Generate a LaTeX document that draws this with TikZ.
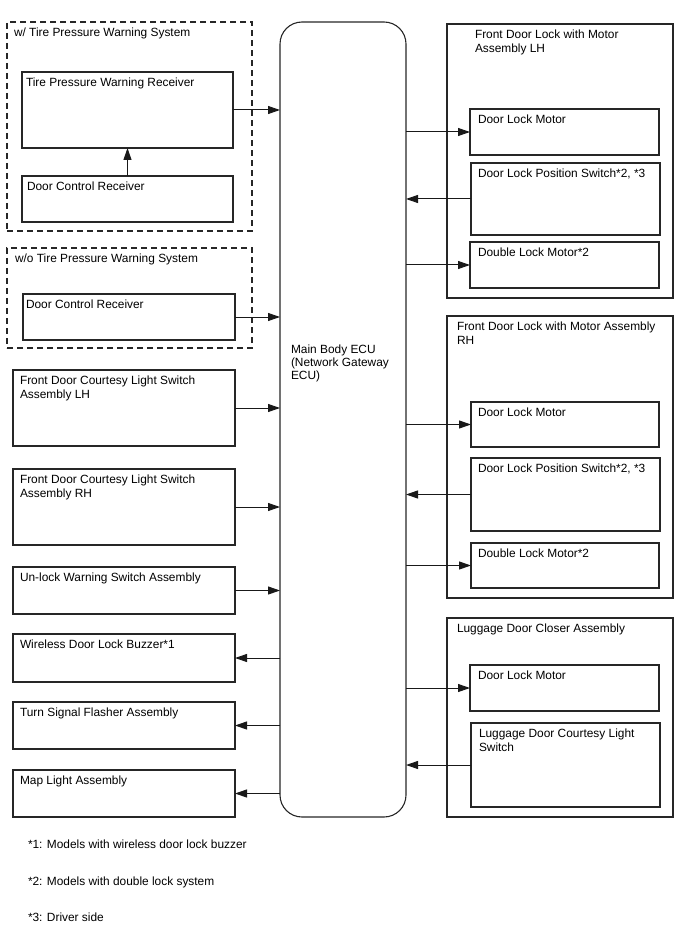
\documentclass[tikz,border=0pt]{standalone}
\usepackage{fontspec}
\setmainfont{Liberation Sans}
\usetikzlibrary{arrows.meta,calc}
\newcommand\mybox[6]{\node[#6, anchor=north west, minimum width={(#4-#2)*1pt}, minimum height={(#5-#3)*1pt}] (#1) at (#2,#3) {};}
\newcommand\mytxt[4]{\node[txt] (#4) at ($(#1.north west)+(#2,6.3)$) {#3};}
\begin{document}
\begin{tikzpicture}[x=1pt,y=-1pt,
  box/.style={draw=black!85, line width=1.1pt, inner sep=0pt, outer sep=0pt},
  dbox/.style={box, dash pattern=on 6pt off 4pt, line width=1.3pt},
  ecubox/.style={box, rounded corners=22pt},
  txt/.style={anchor=north west, inner sep=0pt, outer sep=0pt, align=left, font=\fontsize{11.9}{14}\selectfont},
  arr/.style={draw=black!90, -{Triangle[length=12pt,width=8pt]}, line width=1pt}]
\useasboundingbox (0,0) rectangle (688,949);

% main ECU
\mybox{ecu}{280}{22}{406}{817}{ecubox}
\node[txt, font=\fontsize{11.9}{13}\selectfont] (ecut) at ($(ecu.north west)+(11,323.3)$) {Main Body ECU\\(Network Gateway\\ECU)};

% left dashed groups
\mybox{dash1}{7}{22}{252}{231}{dbox}
\mytxt{dash1}{7}{w/ Tire Pressure Warning System}{dash1t}
\mybox{tpwr}{22}{72}{233}{148}{box}
\mytxt{tpwr}{4}{Tire Pressure Warning Receiver}{tpwrt}
\mybox{dcra}{22}{176}{233}{222}{box}
\mytxt{dcra}{5}{Door Control Receiver}{dcrat}

\mybox{dash2}{7}{248}{252}{348}{dbox}
\mytxt{dash2}{8}{w/o Tire Pressure Warning System}{dash2t}
\mybox{dcrb}{23}{294}{235}{340}{box}
\mytxt{dcrb}{3}{Door Control Receiver}{dcrbt}

% left boxes
\mybox{fdl}{13}{370}{235}{446}{box}
\mytxt{fdl}{7}{Front Door Courtesy Light Switch\\Assembly LH}{fdlt}
\mybox{fdr}{13}{469}{235}{545}{box}
\mytxt{fdr}{7}{Front Door Courtesy Light Switch\\Assembly RH}{fdrt}
\mybox{unl}{13}{567}{235}{614}{box}
\mytxt{unl}{7}{Un-lock Warning Switch Assembly}{unlt}
\mybox{wdb}{13}{634}{235}{682}{box}
\mytxt{wdb}{7}{Wireless Door Lock Buzzer*1}{wdbt}
\mybox{tsf}{13}{702}{235}{749}{box}
\mytxt{tsf}{7}{Turn Signal Flasher Assembly}{tsft}
\mybox{mla}{13}{770}{235}{817}{box}
\mytxt{mla}{7}{Map Light Assembly}{mlat}

% right groups
\mybox{lh}{447}{24}{673}{298}{box}
\mytxt{lh}{28}{Front Door Lock with Motor\\Assembly LH}{lht}
\mybox{dlma}{470}{109}{659}{155}{box}
\mytxt{dlma}{8}{Door Lock Motor}{dlmat}
\mybox{dlpa}{471}{163}{660}{235}{box}
\mytxt{dlpa}{7}{Door Lock Position Switch*2, *3}{dlpat}
\mybox{dbla}{470}{242}{659}{288}{box}
\mytxt{dbla}{8}{Double Lock Motor*2}{dblat}

\mybox{rh}{447}{316}{673}{598}{box}
\mytxt{rh}{10}{Front Door Lock with Motor Assembly\\RH}{rht}
\mybox{dlmb}{471}{402}{659}{447}{box}
\mytxt{dlmb}{7}{Door Lock Motor}{dlmbt}
\mybox{dlpb}{471}{458}{660}{531}{box}
\mytxt{dlpb}{7}{Door Lock Position Switch*2, *3}{dlpbt}
\mybox{dblb}{471}{543}{659}{588}{box}
\mytxt{dblb}{7}{Double Lock Motor*2}{dblbt}

\mybox{lug}{447}{618}{673}{817}{box}
\mytxt{lug}{10}{Luggage Door Closer Assembly}{lugt}
\mybox{dlmc}{470}{665}{659}{711}{box}
\mytxt{dlmc}{8}{Door Lock Motor}{dlmct}
\mybox{ldc}{471}{723}{660}{807}{box}
\mytxt{ldc}{8}{Luggage Door Courtesy Light\\Switch}{ldct}

% footnotes
\node[txt] (n1) at (28,839.5) {*1: Models with wireless door lock buzzer};
\node[txt] (n2) at (28,876.5) {*2: Models with double lock system};
\node[txt] (n3) at (28,912.5) {*3: Driver side};

% connectors
\draw[arr] (dcra.north) -- (tpwr.south);
\draw[arr] (tpwr.east) -- (tpwr.east -| ecu.west);
\draw[arr] (dcrb.east) -- (dcrb.east -| ecu.west);
\draw[arr] (fdl.east) -- (fdl.east -| ecu.west);
\draw[arr] (fdr.east) -- (fdr.east -| ecu.west);
\draw[arr] (unl.east) -- (unl.east -| ecu.west);
\draw[arr] (wdb.east -| ecu.west) -- (wdb.east);
\draw[arr] (tsf.east -| ecu.west) -- (tsf.east);
\draw[arr] (mla.east -| ecu.west) -- (mla.east);

\draw[arr] (dlma.west -| ecu.east) -- (dlma.west);
\draw[arr] (dlpa.west) -- (dlpa.west -| ecu.east);
\draw[arr] (dbla.west -| ecu.east) -- (dbla.west);
\draw[arr] (dlmb.west -| ecu.east) -- (dlmb.west);
\draw[arr] (dlpb.west) -- (dlpb.west -| ecu.east);
\draw[arr] (dblb.west -| ecu.east) -- (dblb.west);
\draw[arr] (dlmc.west -| ecu.east) -- (dlmc.west);
\draw[arr] (ldc.west) -- (ldc.west -| ecu.east);
\end{tikzpicture}
\end{document}
